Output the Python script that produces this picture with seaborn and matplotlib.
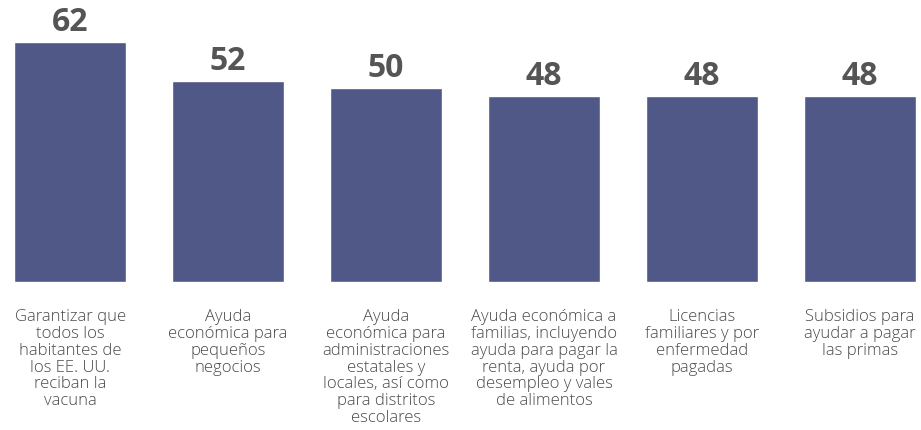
import matplotlib
matplotlib.use("Agg")
import matplotlib.pyplot as plt
import seaborn as sns
import pandas as pd

# datos del gráfico
categorias = [
    "Garantizar que\ntodos los\nhabitantes de\nlos EE. UU.\nreciban la\nvacuna",
    "Ayuda\neconómica para\npequeños\nnegocios",
    "Ayuda\neconómica para\nadministraciones\nestatales y\nlocales, así como\npara distritos\nescolares",
    "Ayuda económica a\nfamilias, incluyendo\nayuda para pagar la\nrenta, ayuda por\ndesempleo y vales\nde alimentos",
    "Licencias\nfamiliares y por\nenfermedad\npagadas",
    "Subsidios para\nayudar a pagar\nlas primas",
]
valores = [62, 52, 50, 48, 48, 48]

sns.set_style("white")
plt.rcParams["font.family"] = ["Open Sans", "DejaVu Sans"]

df = pd.DataFrame({"categoria": categorias, "valor": valores})

fig = plt.figure(figsize=(9.21, 4.31), dpi=100)
ax = fig.add_axes([14 / 921, 148 / 431, 902 / 921, 271 / 431])

sns.barplot(data=df, x="categoria", y="valor", color="#505887",
            width=0.709, saturation=1, ax=ax)

ax.bar_label(ax.containers[0], fmt="%d", padding=3, fontsize=23,
             fontweight="bold", color="#555555", clip_on=False)

ax.set_xlim(-0.355, len(categorias) - 1 + 0.355)
ax.set_ylim(0, 70)
ax.set_xlabel("")
ax.set_ylabel("")
ax.set_yticks([])
ax.tick_params(axis="x", length=0, pad=19, labelsize=12, labelcolor="#4a4a4a")
for lbl in ax.get_xticklabels():
    lbl.set_linespacing(1.06)
    lbl.set_fontweight("light")
sns.despine(ax=ax, left=True, bottom=True)

fig.savefig("out.png", dpi=100)
